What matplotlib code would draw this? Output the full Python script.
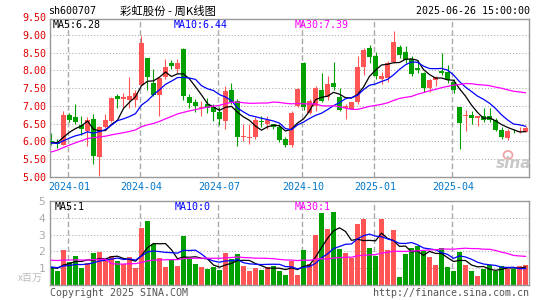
import numpy as np
import pandas as pd
import matplotlib
matplotlib.use('Agg')
import matplotlib.pyplot as plt
from matplotlib.patches import Ellipse

# weekly K bars, 2023-12-18 .. 2025-06-23
opens = [6.01, 5.99, 5.89, 6.74, 6.67, 6.47, 6.29, 6.64, 5.56, 6.41,
         6.58, 7.27, 7.20, 7.16, 7.16, 7.60, 8.34, 7.65, 7.30, 7.82,
         8.20, 8.03, 8.60, 7.25, 7.11, 6.93, 7.05, 6.97, 6.82, 6.58,
         7.44, 7.14, 6.13, 6.10, 6.12, 6.57, 6.48, 6.48, 6.41, 6.05,
         5.89, 6.99, 8.22, 6.80, 6.99, 7.45, 7.26, 7.65, 7.25, 6.93,
         6.92, 7.10, 8.09, 8.62, 8.41, 7.77, 7.78, 8.23, 8.65, 8.53,
         8.33, 8.06, 7.93, 7.50, 7.72, 7.97, 7.94, 7.68, 6.96, 6.72,
         6.75, 6.66, 6.72, 6.70, 6.60, 6.33, 6.10, 6.30, 6.25, 6.27]
highs = [6.24, 6.07, 6.86, 6.80, 7.05, 6.71, 6.67, 6.78, 6.42, 6.78,
         7.25, 7.32, 7.37, 7.82, 7.44, 8.96, 8.36, 8.03, 7.82, 8.31,
         8.30, 8.31, 8.62, 7.33, 7.18, 7.14, 7.21, 7.04, 6.96, 7.56,
         7.65, 7.18, 6.50, 6.50, 6.68, 6.72, 6.70, 6.50, 6.48, 6.11,
         6.85, 7.49, 8.25, 7.20, 7.55, 7.92, 7.83, 8.25, 7.50, 7.05,
         7.12, 8.40, 8.62, 8.72, 8.53, 7.96, 8.26, 9.12, 8.72, 8.68,
         8.40, 8.30, 7.96, 7.75, 7.83, 8.50, 8.15, 7.77, 6.98, 6.87,
         6.84, 6.72, 6.95, 6.95, 6.65, 6.40, 6.35, 6.35, 6.40, 6.42]
lows = [5.89, 5.80, 5.88, 6.55, 6.48, 6.17, 5.86, 5.35, 5.02, 6.36,
        6.55, 6.94, 6.97, 6.93, 6.97, 7.58, 7.44, 7.28, 6.71, 7.77,
        8.05, 7.92, 7.16, 6.95, 6.83, 6.72, 6.80, 6.57, 6.47, 6.34,
        7.04, 5.86, 6.00, 5.93, 6.07, 6.40, 6.35, 6.34, 5.98, 5.84,
        5.84, 6.97, 6.88, 6.76, 6.86, 7.10, 7.17, 7.44, 6.86, 6.64,
        6.90, 7.05, 7.88, 8.20, 7.75, 7.62, 7.68, 8.20, 8.35, 8.20,
        7.85, 7.92, 7.38, 7.38, 7.55, 7.87, 7.63, 7.36, 5.79, 6.30,
        6.50, 6.44, 6.55, 6.53, 6.30, 6.07, 6.03, 6.22, 6.22, 6.25]
closes = [5.98, 5.91, 6.74, 6.61, 6.55, 6.34, 6.61, 5.58, 6.39, 6.59,
          7.21, 7.19, 7.24, 7.27, 7.37, 8.76, 7.82, 7.30, 7.79, 8.10,
          8.12, 8.20, 7.28, 7.09, 6.99, 6.98, 6.95, 6.82, 6.62, 7.42,
          7.11, 6.12, 6.16, 6.13, 6.61, 6.54, 6.59, 6.40, 6.03, 5.88,
          6.80, 7.46, 6.97, 7.14, 7.49, 7.14, 7.61, 7.52, 6.88, 6.99,
          7.10, 8.10, 8.58, 8.39, 7.85, 7.84, 8.20, 8.80, 8.42, 8.30,
          7.90, 8.00, 7.49, 7.72, 7.80, 7.92, 7.73, 7.44, 6.52, 6.75,
          6.66, 6.70, 6.60, 6.60, 6.33, 6.12, 6.30, 6.28, 6.28, 6.37]
vols = [1.03, 0.83, 2.08, 1.35, 1.72, 1.03, 1.29, 1.90, 1.98, 1.54,
        1.72, 1.43, 1.23, 1.68, 1.03, 3.40, 3.80, 2.42, 1.62, 1.09,
        1.54, 1.15, 2.93, 1.54, 1.25, 1.09, 0.97, 1.09, 0.90, 1.92,
        1.55, 1.84, 1.13, 0.85, 1.01, 0.91, 1.10, 1.15, 0.83, 0.59,
        1.43, 0.59, 2.08, 1.23, 2.97, 4.26, 3.33, 4.32, 2.14, 1.88,
        1.62, 3.66, 3.92, 2.20, 1.74, 3.92, 2.08, 3.27, 0.48, 1.84,
        2.18, 2.33, 2.00, 1.66, 1.22, 2.18, 1.09, 0.85, 1.98, 1.19,
        0.84, 0.54, 0.95, 1.19, 0.84, 1.14, 0.95, 0.95, 1.13, 1.19]

# weeks before the window, estimated from where the MA lines start
prev_close = [4.45, 4.50, 4.55, 4.60, 4.65, 4.70, 4.90,
              5.75, 5.92, 6.10, 6.25, 6.35, 6.20, 6.10, 6.05,
              6.20, 6.15, 6.02, 5.96, 6.08,
              6.05, 5.98, 5.85, 5.90, 5.92,
              5.90, 5.98, 5.92, 6.02]
prev_vol = [1.2, 1.4, 1.1, 1.5, 1.3, 1.2, 1.4, 1.3, 1.22,
            9.8,
            2.1, 1.3, 1.05, 0.92,
            1.2, 1.0, 1.15, 1.1, 1.04, 1.1,
            1.2, 1.1, 1.05, 1.1, 1.1,
            1.0, 1.1, 0.95, 1.07]

tick_pos = [3, 15, 28, 42, 54, 67]
tick_lab = ['2024-01', '2024-04', '2024-07', '2024-10', '2025-01', '2025-04']
price_ticks = [5.0, 5.5, 6.0, 6.5, 7.0, 7.5, 8.0, 8.5, 9.0]
vol_ticks = [1, 2, 3, 4, 5]

RED = '#ff5555'
GREEN = '#00a000'
GRID = '#aaaaaa'
MONO = 'DejaVu Sans Mono'
CJK = ['Noto Sans CJK SC', 'DejaVu Sans']

def ma(prev, cur, n):
    s = pd.Series(prev + cur).rolling(n).mean().values
    return s[len(prev):]

o = np.array(opens); h = np.array(highs); l = np.array(lows); c = np.array(closes)
v = np.array(vols)
x = np.arange(len(c))
col = np.where(c >= o, RED, GREEN)

W, H = 545.0, 300.0
def box(left, top, right, bottom):
    return [left / W, 1 - bottom / H, (right - left) / W, (bottom - top) / H]

fig = plt.figure(figsize=(5.45, 3.0), dpi=100)
ax = fig.add_axes(box(49.5, 19, 529, 177))
axv = fig.add_axes(box(49.5, 201, 529, 285))

# candles
ax.vlines(x, l, h, colors=col, lw=0.8, zorder=2)
ax.bar(x, np.maximum(np.abs(c - o), 0.015), bottom=np.minimum(o, c),
       width=0.78, color=col, linewidth=0, zorder=3)
ax.plot(x, ma(prev_close, closes, 5), color='black', lw=0.9, zorder=4)
ax.plot(x, ma(prev_close, closes, 10), color='#0000ff', lw=0.9, zorder=4)
ax.plot(x, ma(prev_close, closes, 30), color='#ff00ff', lw=0.9, zorder=4)

# volume
axv.bar(x, v, width=0.78, color=col, linewidth=0, zorder=2)
axv.plot(x, ma(prev_vol, vols, 5), color='black', lw=0.9, zorder=4)
axv.plot(x, ma(prev_vol, vols, 10), color='#0000ff', lw=0.9, zorder=4)
axv.plot(x, ma(prev_vol, vols, 30), color='#ff00ff', lw=0.9, zorder=4)

for a in (ax, axv):
    a.set_xlim(-0.33, 79.58)
    for p in tick_pos:
        a.axvline(p - 0.2, color=GRID, lw=1, ls=(0, (4, 2)), zorder=1)
    a.yaxis.grid(True, color=GRID, lw=0.75, ls=(0, (1, 2)), zorder=1)
    for s in a.spines.values():
        s.set_color('#999999')
        s.set_linewidth(1)
    a.tick_params(length=0)

ax.set_ylim(4.99, 9.45)
ax.set_yticks(price_ticks)
ax.set_yticklabels(['%.2f' % t for t in price_ticks], color='#e00000',
                   fontsize=7.2, family=MONO)
ax.tick_params(axis='y', pad=2)
ax.set_xticks(tick_pos)
ax.set_xticklabels(tick_lab, color='#0077cc', fontsize=7.2, family=MONO)
ax.tick_params(axis='x', pad=3.5)

axv.set_ylim(0, 5.0)
axv.set_yticks(vol_ticks)
axv.set_yticklabels([str(t) for t in vol_ticks], color='#aaaaaa',
                    fontsize=8, family=MONO)
axv.tick_params(axis='y', pad=3)
axv.set_xticks(tick_pos)
axv.set_xticklabels([])

def ftext(px, py, s, **kw):
    kw.setdefault('family', MONO)
    kw.setdefault('fontsize', 7.2)
    kw.setdefault('va', 'center')
    fig.text(px / W, 1 - py / H, s, **kw)

ftext(46.7, 18, '9.50', ha='right', color='#e00000')
ftext(48, 11.5, 'sh600707', color='black')
ftext(120, 11, '彩虹股份 - 周K线图', family=CJK, fontsize=8.2, color='black')
ftext(530, 11.5, '2025-06-26 15:00:00', ha='right', color='black')
ftext(53, 25, 'MA5:6.28', color='black')
ftext(174, 25, 'MA10:6.44', color='#0000ff')
ftext(295, 25, 'MA30:7.39', color='#ff00ff')
ftext(55, 207, 'MA5:1', color='black')
ftext(175, 207, 'MA10:0', color='#0000ff')
ftext(295, 207, 'MA30:1', color='#ff00ff')
ftext(43, 278, 'x百万', family=CJK, fontsize=7.2, ha='right', color='#bbbbbb')
ftext(50, 293, 'Copyright 2025 SINA.COM', color='#555555')
ftext(529, 293, 'http://finance.sina.com.cn', ha='right', color='#555555')

# sina watermark
fig.add_artist(Ellipse((508 / W, 1 - 155 / H), 9 / W, 8 / H, fill=False,
                       ec='#f0a0a0', lw=1.2))
ftext(496, 163, 'sina', family='DejaVu Sans', fontsize=11, style='italic',
      weight='bold', color='#c8c8c8')

fig.savefig('out.png', dpi=100)
